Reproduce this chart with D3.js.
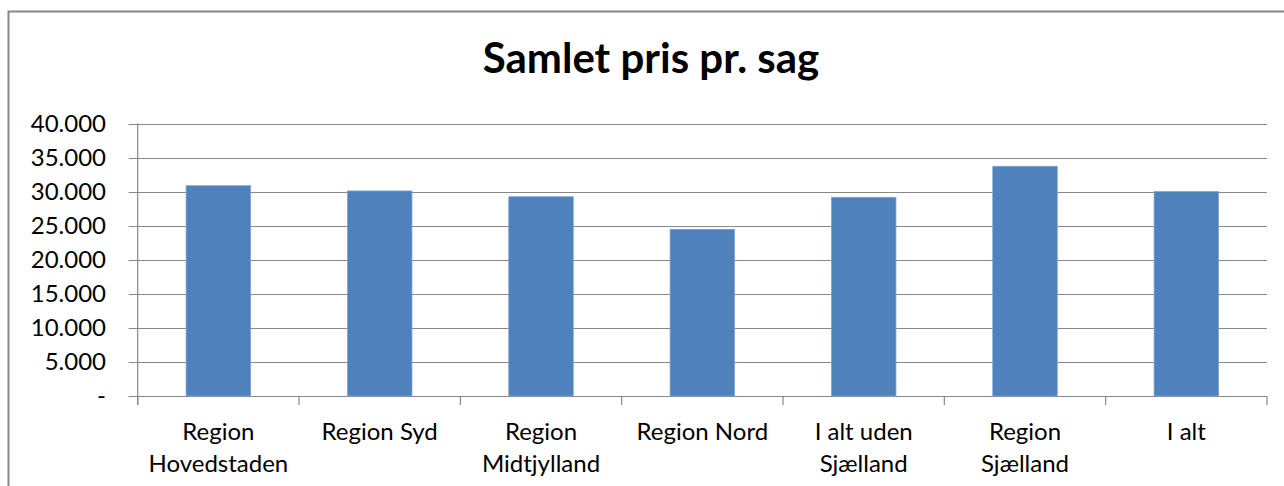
<!DOCTYPE html>
<html><head><meta charset="utf-8">
<script src="https://cdn.jsdelivr.net/npm/d3@7"></script>
<style>body{margin:0;background:#fff;} svg{display:block;}</style>
</head><body>
<svg id="chart" width="1284" height="486"></svg>
<script>
const categories = [["Region","Hovedstaden"],["Region Syd"],["Region","Midtjylland"],["Region Nord"],["I alt uden","Sjælland"],["Region","Sjælland"],["I alt"]];
const values = [30870, 30100, 29250, 24470, 29170, 33720, 30000];
const yTicks = [0, 5000, 10000, 15000, 20000, 25000, 30000, 35000, 40000];
const yTickLabels = ["-", "5.000", "10.000", "15.000", "20.000", "25.000", "30.000", "35.000", "40.000"];
const title = "Samlet pris pr. sag";

const svg = d3.select("#chart");
const font = "Lato, 'Open Sans', sans-serif";
const plotLeft = 137.7, plotRight = 1267, plotTop = 123.5, plotBottom = 396;

svg.append("rect").attr("x", 8.5).attr("y", 11.5).attr("width", 1300).attr("height", 500)
  .attr("fill", "#fff").attr("stroke", "#878787").attr("stroke-width", 2);

svg.append("text").attr("x", 651).attr("y", 73).attr("text-anchor", "middle")
  .attr("font-family", font).attr("font-weight", "bold").attr("font-size", 42).attr("fill", "#000")
  .text(title);

const x = d3.scaleBand().domain(d3.range(categories.length)).range([plotLeft, plotRight]).paddingInner(0.6).paddingOuter(0.3);
const xc = d3.scaleBand().domain(d3.range(categories.length)).range([plotLeft, plotRight]);
const y = d3.scaleLinear().domain([0, 40000]).range([plotBottom, plotTop]);

svg.append("g").selectAll("line").data(yTicks).join("line")
  .attr("x1", plotLeft - 9).attr("x2", plotRight).attr("y1", d => Math.round(y(d)) + 0.5).attr("y2", d => Math.round(y(d)) + 0.5)
  .attr("stroke", "#888").attr("stroke-width", 1.2);

svg.append("g").selectAll("text").data(yTicks).join("text")
  .attr("x", 106).attr("y", d => y(d)).attr("dy", "0.35em").attr("text-anchor", "end")
  .attr("font-family", font).attr("font-size", 24).attr("fill", "#000")
  .text((d, i) => yTickLabels[i]);

svg.append("line").attr("x1", plotLeft).attr("x2", plotLeft).attr("y1", plotTop).attr("y2", plotBottom + 9)
  .attr("stroke", "#888").attr("stroke-width", 1.2);

const tickXs = d3.range(categories.length + 1).map(i => i < categories.length ? xc(i) : xc(i - 1) + xc.bandwidth());
svg.append("g").selectAll("line").data(tickXs).join("line")
  .attr("x1", d => d).attr("x2", d => d).attr("y1", plotBottom).attr("y2", plotBottom + 9)
  .attr("stroke", "#888").attr("stroke-width", 1.2);

svg.append("g").selectAll("rect").data(values).join("rect")
  .attr("x", (d, i) => x(i)).attr("width", x.bandwidth())
  .attr("y", d => y(d)).attr("height", d => plotBottom - y(d))
  .attr("fill", "#4F81BD").attr("stroke", "#7FA3D0").attr("stroke-width", 0.8);

const lab = svg.append("g").selectAll("text").data(categories).join("text")
  .attr("x", (d, i) => xc(i) + xc.bandwidth() / 2).attr("y", 440)
  .attr("text-anchor", "middle").attr("font-family", font).attr("font-size", 24).attr("fill", "#000");
lab.selectAll("tspan").data(d => d).join("tspan")
  .attr("x", function() { return this.parentNode.getAttribute("x"); })
  .attr("dy", (d, i) => i === 0 ? 0 : 32).text(d => d);
</script>
</body></html>
